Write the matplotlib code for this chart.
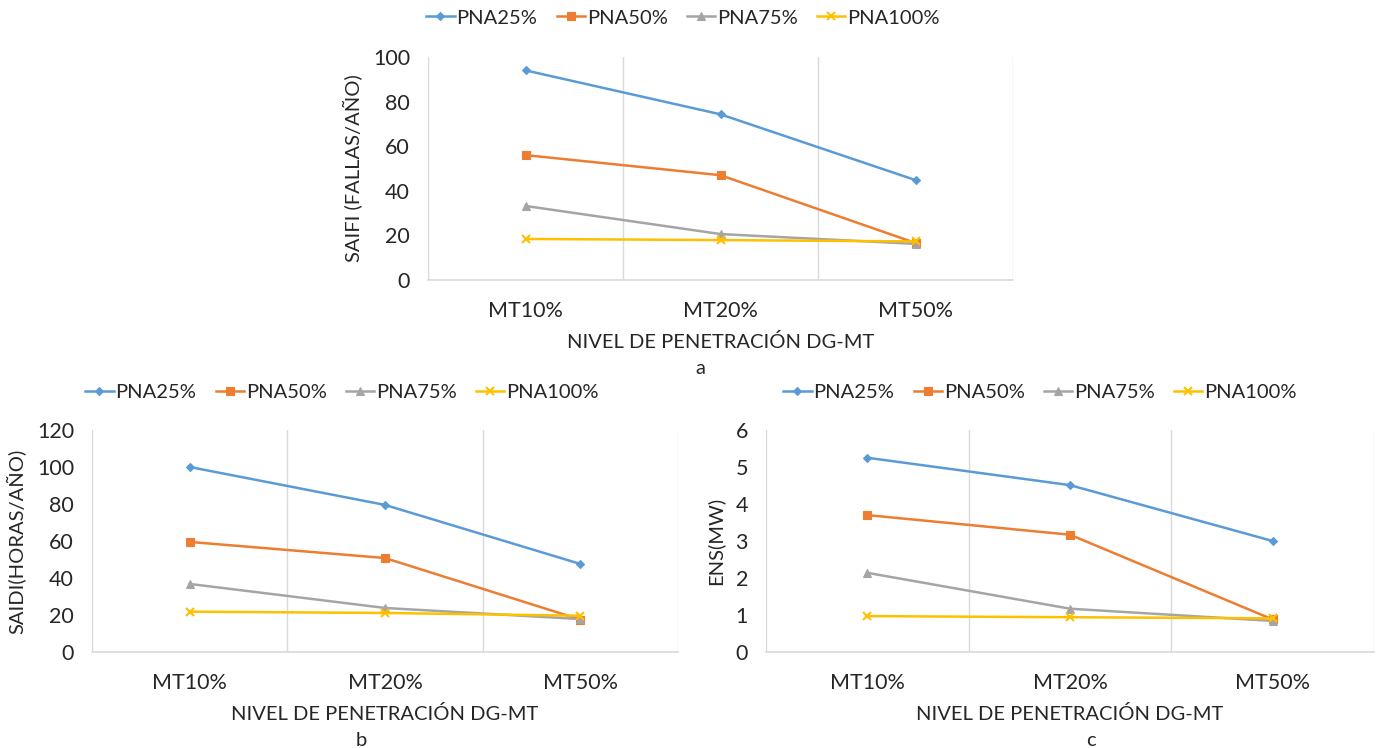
import matplotlib
matplotlib.use("Agg")
import matplotlib.pyplot as plt

plt.rcParams['font.family'] = ['Lato', 'DejaVu Sans']

categories = ["MT10%", "MT20%", "MT50%"]
series_names = ["PNA25%", "PNA50%", "PNA75%", "PNA100%"]

saifi = {
    "PNA25%": [94.0, 74.3, 44.8],
    "PNA50%": [56.0, 47.0, 16.6],
    "PNA75%": [33.2, 20.6, 16.2],
    "PNA100%": [18.4, 17.9, 17.3],
}
saidi = {
    "PNA25%": [100.0, 79.5, 47.6],
    "PNA50%": [59.5, 50.8, 17.5],
    "PNA75%": [36.8, 23.8, 17.8],
    "PNA100%": [21.8, 21.1, 19.6],
}
ens = {
    "PNA25%": [5.25, 4.51, 3.0],
    "PNA50%": [3.70, 3.17, 0.88],
    "PNA75%": [2.14, 1.17, 0.84],
    "PNA100%": [0.97, 0.94, 0.91],
}

colors = {"PNA25%": "#5B9BD5", "PNA50%": "#ED7D31", "PNA75%": "#A5A5A5", "PNA100%": "#FFC000"}
markers = {"PNA25%": ("D", 4), "PNA50%": ("s", 6), "PNA75%": ("^", 6), "PNA100%": ("x", 6)}

W, H = 1379, 748
fig = plt.figure(figsize=(W / 100, H / 100), dpi=100)
fig.patch.set_facecolor("white")


def px_axes(left, right, top, bottom):
    return fig.add_axes([left / W, 1 - bottom / H, (right - left) / W, (bottom - top) / H])


def draw_panel(ax, data, ymax, ystep, ylabel, legend_xy, letter_xy):
    x = range(len(categories))
    handles = []
    for name in series_names:
        m, ms = markers[name]
        h, = ax.plot(x, data[name], color=colors[name], lw=1.8, marker=m, ms=ms,
                     mew=1.5 if m == "x" else 0.8, zorder=3, label=name)
        handles.append(h)
    ax.set_xlim(-0.5, len(categories) - 0.5)
    ax.set_ylim(0, ymax)
    yt = [i * ystep for i in range(int(round(ymax / ystep)) + 1)]
    ax.set_yticks(yt)
    ax.set_yticklabels([f"{v:g}" for v in yt])
    ax.set_xticks(list(x))
    ax.set_xticklabels(categories)
    for b in [-0.5, 0.5, 1.5, 2.5]:
        ax.axvline(b, color="#D9D9D9", lw=1.0, zorder=1)
    for s in ["top", "right", "left"]:
        ax.spines[s].set_visible(False)
    ax.spines["bottom"].set_color("#D9D9D9")
    ax.spines["bottom"].set_linewidth(1.2)
    ax.tick_params(axis="both", length=0, labelsize=15.5, colors="#262626")
    ax.tick_params(axis="y", pad=13)
    ax.tick_params(axis="x", pad=15)
    ax.set_ylabel(ylabel, fontsize=14.5, color="#262626", labelpad=8)
    ax.set_xlabel("NIVEL DE PENETRACIÓN DG-MT", fontsize=14.5, color="#262626", labelpad=9)
    fig.legend(handles=handles, loc="center", bbox_to_anchor=(legend_xy[0] / W, 1 - legend_xy[1] / H),
               ncol=4, frameon=False, fontsize=14.5, handlelength=1.4, handletextpad=0.1,
               columnspacing=0.95, labelcolor="#262626")
    fig.text(letter_xy[0] / W, 1 - letter_xy[1] / H, letter_xy[2], ha="center", va="center",
             fontsize=14.5, color="#262626")


ax_a = px_axes(428, 1013, 57, 280)
draw_panel(ax_a, saifi, 100, 20, "SAIFI (FALLAS/AÑO)", (683, 18), (700, 368, "a"))

ax_b = px_axes(92, 678, 430, 652)
draw_panel(ax_b, saidi, 120, 20, "SAIDI(HORAS/AÑO)", (342, 392), (361, 740, "b"))

ax_c = px_axes(766, 1374, 430, 652)
draw_panel(ax_c, ens, 6, 1, "ENS(MW)", (1040, 392), (1091, 740, "c"))

fig.savefig("out.png", dpi=100, facecolor="white")
